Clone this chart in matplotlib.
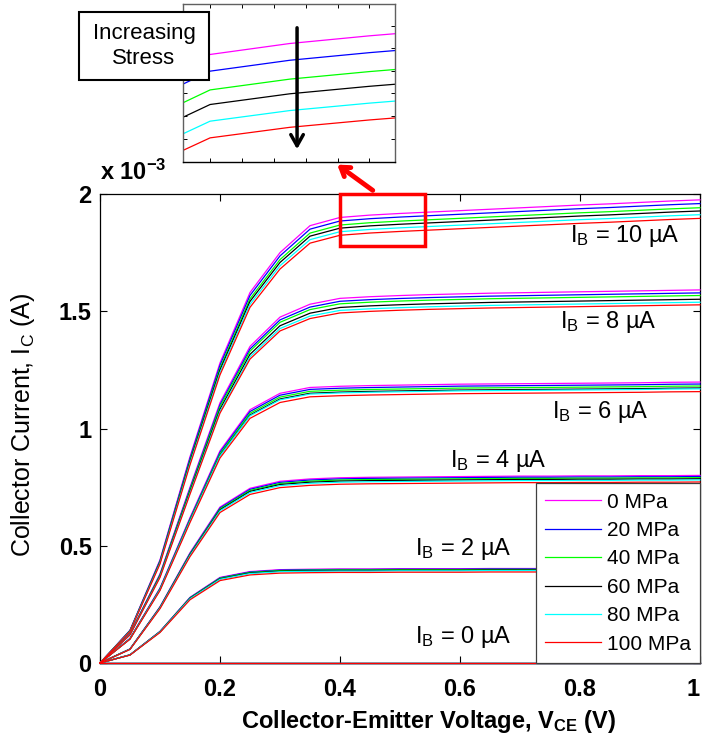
import matplotlib
matplotlib.use("Agg")
import matplotlib.pyplot as plt
from matplotlib.patches import Rectangle, FancyArrowPatch
import numpy as np

plt.rcParams['font.family'] = ['Liberation Sans', 'DejaVu Sans']
plt.rcParams['mathtext.default'] = 'regular'

# Collector-emitter voltage sweep (V)
vce = [0.00, 0.05, 0.10, 0.15, 0.20, 0.25, 0.30, 0.35, 0.40, 0.45, 0.50,
       0.55, 0.60, 0.65, 0.70, 0.75, 0.80, 0.85, 0.90, 0.95, 1.00]

# Collector current at 0 MPa (units of 1e-3 A) for each base current
ic_ib10 = [0, 0.14, 0.44, 0.88, 1.28, 1.58, 1.75, 1.865, 1.900, 1.910, 1.917,
           1.923, 1.929, 1.935, 1.941, 1.947, 1.953, 1.958, 1.964, 1.970, 1.975]
ic_ib8 = [0, 0.125, 0.38, 0.75, 1.11, 1.35, 1.475, 1.53, 1.555, 1.562, 1.567,
          1.571, 1.574, 1.577, 1.579, 1.581, 1.583, 1.585, 1.587, 1.589, 1.591]
ic_ib6 = [0, 0.105, 0.32, 0.62, 0.905, 1.08, 1.15, 1.175, 1.180, 1.183, 1.185,
          1.187, 1.189, 1.190, 1.191, 1.192, 1.193, 1.194, 1.195, 1.197, 1.198]
ic_ib4 = [0, 0.06, 0.24, 0.47, 0.665, 0.745, 0.775, 0.785, 0.790, 0.792, 0.793,
          0.794, 0.795, 0.796, 0.797, 0.797, 0.798, 0.798, 0.799, 0.799, 0.800]
ic_ib2 = [0, 0.035, 0.135, 0.28, 0.365, 0.39, 0.398, 0.400, 0.401, 0.401, 0.402,
          0.402, 0.402, 0.403, 0.403, 0.403, 0.404, 0.404, 0.404, 0.405, 0.405]
ic_ib0 = [0] * 21

# Relative current under each stress level, per base current
stress_labels = ['0 MPa', '20 MPa', '40 MPa', '60 MPa', '80 MPa', '100 MPa']
stress_colors = ['#ff00ff', '#0000ff', '#00ff00', '#000000', '#00ffff', '#ff0000']
factor_ib10 = [1.000, 0.992, 0.983, 0.976, 0.968, 0.960]
factor_ib8 = [1.000, 0.992, 0.985, 0.975, 0.967, 0.960]
factor_ib6 = [1.000, 0.993, 0.986, 0.979, 0.976, 0.966]
factor_ib4 = [1.000, 0.994, 0.988, 0.982, 0.976, 0.965]
factor_ib2 = [1.000, 0.995, 0.990, 0.984, 0.978, 0.963]
factor_ib0 = [1.0] * 6

families = [(ic_ib10, factor_ib10), (ic_ib8, factor_ib8), (ic_ib6, factor_ib6),
            (ic_ib4, factor_ib4), (ic_ib2, factor_ib2), (ic_ib0, factor_ib0)]

ib_labels = ['10', '8', '6', '4', '2', '0']
ib_label_pos = [(0.783, 1.797), (0.767, 1.429), (0.753, 1.045),
                (0.583, 0.837), (0.525, 0.460), (0.525, 0.084)]

fig = plt.figure(figsize=(7.02, 7.44), dpi=100)
ax = fig.add_axes([100 / 702, 1 - 663 / 744, 600 / 702, 469 / 744])

x = np.array(vce)
for k, (color, label) in enumerate(zip(stress_colors, stress_labels)):
    for j, (ic, fac) in enumerate(families):
        ax.plot(x, np.array(ic) * fac[k], color=color, lw=0.9,
                label=label if j == 0 else None, clip_on=False, zorder=3)

ax.set_xlim(0, 1)
ax.set_ylim(0, 2)
ax.set_xticks([0, 0.2, 0.4, 0.6, 0.8, 1])
ax.set_xticklabels(['0', '0.2', '0.4', '0.6', '0.8', '1'])
ax.set_yticks([0, 0.5, 1, 1.5, 2])
ax.set_yticklabels(['0', '0.5', '1', '1.5', '2'])
ax.tick_params(direction='in', top=True, right=True, length=5, width=0.8,
               labelsize=17, pad=6)
ax.tick_params(axis='x', pad=11)
for lab in ax.get_xticklabels() + ax.get_yticklabels():
    lab.set_fontweight('bold')
ax.get_xticklabels()[-1].set_horizontalalignment('right')
for s in ax.spines.values():
    s.set_linewidth(0.9)

ax.set_xlabel('Collector-Emitter Voltage, V$_{CE}$ (V)', fontsize=17,
              fontweight='bold')
ax.xaxis.set_label_coords(0.547, -0.095)
ax.set_ylabel('Collector Current, I$_{C}$ (A)', fontsize=18)
ax.yaxis.set_label_coords(-0.105, 0.507)
ax.text(0.0, 2.04, 'x 10$^{-3}$', fontsize=17, fontweight='bold',
        ha='left', va='bottom')

for lab, (lx, ly) in zip(ib_labels, ib_label_pos):
    ax.text(lx, ly, 'I$_{B}$ = ' + lab + ' \u00b5A', fontsize=17,
            ha='left', va='baseline')

leg = ax.legend(loc='lower right', bbox_to_anchor=(1, 0), borderaxespad=0,
                fontsize=15, handlelength=2.7, labelspacing=0.45,
                fancybox=False, framealpha=1, edgecolor='#404040',
                handletextpad=0.25, borderpad=0.45)
leg.get_frame().set_linewidth(0.9)
leg.set_zorder(10)

# Highlighted region and pointer to the magnified view
ax.add_patch(Rectangle((0.4, 1.778), 0.142, 0.222, fill=False, ec='red',
                       lw=2.5, clip_on=False, zorder=6))
fig.patches.append(FancyArrowPatch((375 / 702, 1 - 192 / 744),
                                   (335 / 702, 1 - 163 / 744),
                                   transform=fig.transFigure,
                                   arrowstyle='->,head_length=6,head_width=4',
                                   color='red', lw=3.5))

# Magnified view
axi = fig.add_axes([183 / 702, 1 - 162 / 744, 212 / 702, 158 / 744])
for k, color in enumerate(stress_colors):
    axi.plot(x, np.array(ic_ib10) * factor_ib10[k], color=color, lw=0.9)
axi.set_xlim(0.383, 0.516)
axi.set_ylim(1.802, 1.946)
axi.set_xticks([0.40, 0.42, 0.44, 0.46, 0.48, 0.50])
axi.set_yticks([1.823, 1.844, 1.865, 1.885, 1.906, 1.926])
axi.tick_params(direction='in', top=True, right=True, length=3, width=0.7,
                labelbottom=False, labelleft=False)
for s in axi.spines.values():
    s.set_color('#606060')
    s.set_linewidth(1.0)
axi.spines['bottom'].set_color('black')
axi.annotate('', xy=(0.538, 0.063), xytext=(0.538, 0.867),
             xycoords='axes fraction',
             arrowprops=dict(arrowstyle='->,head_length=0.8,head_width=0.45',
                             color='black', lw=2.5))

fig.patches.append(Rectangle((79 / 702, 1 - 80 / 744), 130 / 702, 68 / 744,
                             transform=fig.transFigure, fc='white', ec='black',
                             lw=1.5, zorder=20))
fig.text(144 / 702, 1 - 46 / 744, 'Increasing\nStress', fontsize=16,
         ha='center', va='center', linespacing=1.2, zorder=21)

fig.savefig('out.png', dpi=100)
